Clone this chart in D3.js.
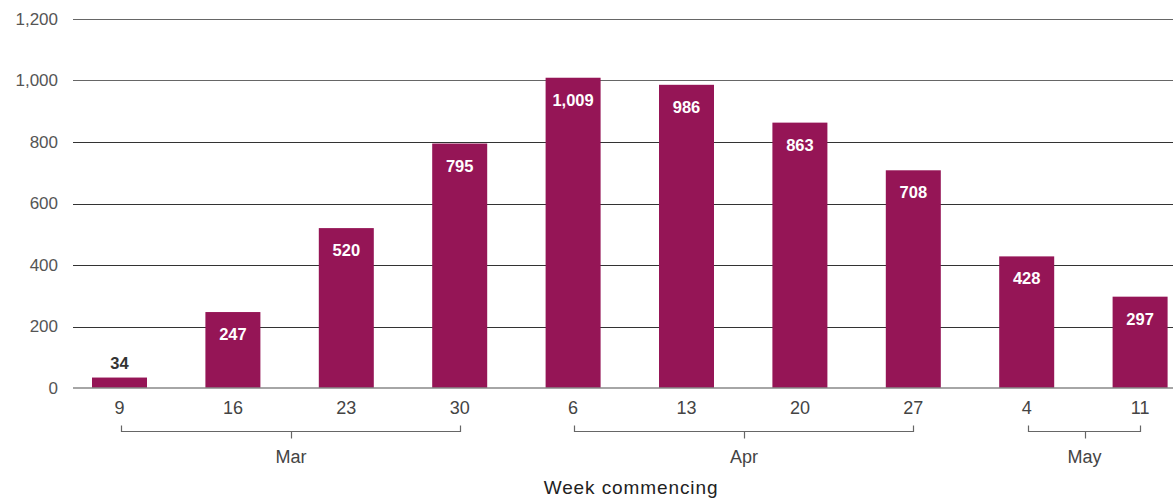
<!DOCTYPE html>
<html>
<head>
<meta charset="utf-8">
<script src="https://cdn.jsdelivr.net/npm/d3@7"></script>
<style>
  html, body { margin: 0; padding: 0; background: #fff; }
  svg { display: block; font-family: "Liberation Sans", Arial, Helvetica, sans-serif; }
</style>
</head>
<body>
<svg id="chart" width="1173" height="500"></svg>
<script>
// Weekly counts, by week commencing
const weeks = ["9", "16", "23", "30", "6", "13", "20", "27", "4", "11"];
const values = [34, 247, 520, 795, 1009, 986, 863, 708, 428, 297];
const months = ["Mar", "Apr", "May"];
const monthSpans = [[0, 3], [4, 7], [8, 9]]; // first and last week index of each month
const yTicks = [0, 200, 400, 600, 800, 1000, 1200];

const svg = d3.select("#chart");
const barColor = "#951556";

const gridLeft = 73, gridRight = 1173;
const y = d3.scaleLinear().domain([0, 1200]).range([388, 19]);
const x = d3.scaleBand()
  .domain(d3.range(weeks.length))
  .range([62.8, 1196.8])
  .paddingInner(0.515)
  .paddingOuter(0.2575);

const fmt = d3.format(",");

// Gridlines (behind bars)
svg.append("g")
  .selectAll("line")
  .data(yTicks.filter(d => d > 0))
  .join("line")
  .attr("x1", gridLeft).attr("x2", gridRight)
  .attr("y1", d => Math.round(y(d)) + 0.5).attr("y2", d => Math.round(y(d)) + 0.5)
  .attr("stroke", d => d >= 1000 ? "#666" : "#333")
  .attr("stroke-width", 1);

// Y labels
svg.append("g")
  .selectAll("text")
  .data(yTicks)
  .join("text")
  .attr("x", 58)
  .attr("y", d => y(d))
  .attr("dy", "0.35em")
  .attr("text-anchor", "end")
  .attr("font-size", 17)
  .attr("fill", "#555")
  .text(d => fmt(d));

// Bars
svg.append("g")
  .selectAll("rect")
  .data(values)
  .join("rect")
  .attr("x", (d, i) => x(i))
  .attr("width", x.bandwidth())
  .attr("y", d => y(d))
  .attr("height", d => y(0) - y(d))
  .attr("fill", barColor);

// Baseline
svg.append("line")
  .attr("x1", gridLeft).attr("x2", gridRight)
  .attr("y1", y(0)).attr("y2", y(0))
  .attr("stroke", "#888")
  .attr("stroke-width", 1.5);

// Value labels: inside the bar when there is room, above it otherwise
const inside = d => (y(0) - y(d)) > 40;
svg.append("g")
  .selectAll("text")
  .data(values)
  .join("text")
  .attr("x", (d, i) => x(i) + x.bandwidth() / 2)
  .attr("y", d => inside(d) ? y(d) + 28 : y(d) - 9)
  .attr("text-anchor", "middle")
  .attr("font-size", 16.5)
  .attr("font-weight", "bold")
  .attr("fill", d => inside(d) ? "#fff" : "#333")
  .text(d => fmt(d));

// Week tick labels
const cx = i => x(i) + x.bandwidth() / 2;
svg.append("g")
  .selectAll("text")
  .data(weeks)
  .join("text")
  .attr("x", (d, i) => cx(i))
  .attr("y", 414)
  .attr("text-anchor", "middle")
  .attr("font-size", 18)
  .attr("fill", "#444")
  .text(d => d);

// Month brackets
const bracketY = 431.5;
months.forEach((m, k) => {
  const [i0, i1] = monthSpans[k];
  const x0 = Math.round(cx(i0)) + 1.5, x1 = Math.round(cx(i1)) + 0.5;
  const xm = Math.round((x0 + x1) / 2) + 0.5;
  const g = svg.append("g").attr("stroke", "#666").attr("stroke-width", 1.2).attr("fill", "none");
  g.append("path").attr("d", `M${x0},${bracketY - 6}V${bracketY}H${x1}V${bracketY - 6}`);
  g.append("line").attr("x1", xm).attr("x2", xm).attr("y1", bracketY).attr("y2", bracketY + 7);
  svg.append("text")
    .attr("x", (x0 + x1) / 2)
    .attr("y", 463)
    .attr("text-anchor", "middle")
    .attr("font-size", 18)
    .attr("fill", "#444")
    .text(m);
});

// Axis title
svg.append("text")
  .attr("x", 631)
  .attr("y", 494)
  .attr("text-anchor", "middle")
  .attr("font-size", 19)
  .attr("letter-spacing", 0.9)
  .attr("fill", "#222")
  .text("Week commencing");
</script>
</body>
</html>
